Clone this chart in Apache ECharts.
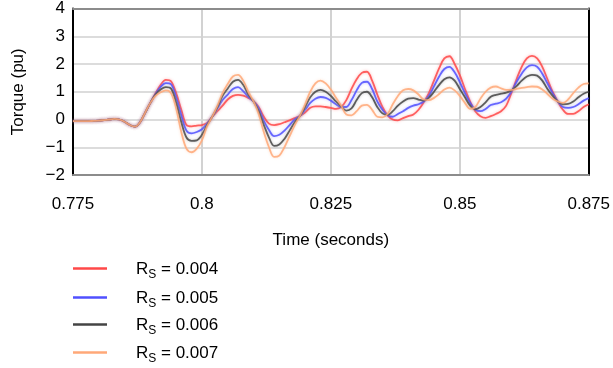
<!DOCTYPE html>
<html>
<head>
<meta charset="utf-8">
<title>Torque response</title>
<script src="https://cdn.jsdelivr.net/npm/echarts@6/dist/echarts.min.js"></script>
<style>
  html, body { margin: 0; padding: 0; background: #ffffff; }
  #chart { width: 613px; height: 368px; }
</style>
</head>
<body>
<div id="chart"></div>
<script>
// Sample times in milliseconds
const timeMs = [
  775, 776, 777, 778, 779, 780, 781, 782, 783, 784,
  785, 786, 787, 788, 789, 790, 791, 792, 793, 794,
  795, 796, 797, 798, 799, 800, 801, 802, 803, 804,
  805, 806, 807, 808, 809, 810, 811, 812, 813, 814,
  815, 816, 817, 818, 819, 820, 821, 822, 823, 824,
  825, 826, 827, 828, 829, 830, 831, 832, 833, 834,
  835, 836, 837, 838, 839, 840, 841, 842, 843, 844,
  845, 846, 847, 848, 849, 850, 851, 852, 853, 854,
  855, 856, 857, 858, 859, 860, 861, 862, 863, 864,
  865, 866, 867, 868, 869, 870, 871, 872, 873, 874,
  875
];

// Torque (pu) for each stator resistance
const torqueRs004 = [
  -0.06, -0.06, -0.06, -0.06, -0.05, -0.04, -0.02, 0.00, 0.02, 0.00,
  -0.08, -0.20, -0.26, -0.10, 0.25, 0.60, 0.95, 1.25, 1.43, 1.38,
  0.95, 0.35, -0.20, -0.25, -0.22, -0.20, -0.12, 0.10, 0.30, 0.50,
  0.72, 0.85, 0.89, 0.86, 0.78, 0.67, 0.45, 0.10, -0.15, -0.20,
  -0.17, -0.10, -0.03, 0.05, 0.13, 0.25, 0.42, 0.47, 0.47, 0.45,
  0.42, 0.38, 0.45, 0.70, 1.10, 1.45, 1.68, 1.72, 1.40, 0.90,
  0.45, 0.15, 0.00, -0.03, 0.05, 0.12, 0.18, 0.35, 0.62, 0.95,
  1.40, 1.85, 2.20, 2.28, 2.00, 1.60, 1.10, 0.65, 0.30, 0.12,
  0.06, 0.12, 0.20, 0.30, 0.50, 0.95, 1.45, 1.90, 2.20, 2.29,
  2.20, 1.90, 1.45, 1.00, 0.65, 0.35, 0.20, 0.20, 0.30, 0.45,
  0.55
];
const torqueRs005 = [
  -0.06, -0.06, -0.06, -0.06, -0.05, -0.04, -0.02, 0.00, 0.02, 0.00,
  -0.08, -0.20, -0.26, -0.10, 0.25, 0.60, 0.92, 1.18, 1.31, 1.27,
  0.80, 0.15, -0.40, -0.50, -0.45, -0.35, -0.15, 0.10, 0.40, 0.70,
  0.90, 1.10, 1.17, 1.02, 0.82, 0.65, 0.40, -0.05, -0.38, -0.60,
  -0.55, -0.40, -0.20, 0.00, 0.13, 0.35, 0.60, 0.75, 0.81, 0.78,
  0.68, 0.55, 0.45, 0.45, 0.70, 1.05, 1.32, 1.36, 1.10, 0.65,
  0.35, 0.15, 0.10, 0.20, 0.30, 0.42, 0.50, 0.55, 0.65, 0.85,
  1.20, 1.55, 1.82, 1.90, 1.70, 1.35, 0.95, 0.60, 0.36, 0.30,
  0.38, 0.52, 0.57, 0.62, 0.75, 1.00, 1.35, 1.65, 1.88, 1.96,
  1.90, 1.65, 1.30, 0.95, 0.65, 0.45, 0.42, 0.45, 0.55, 0.68,
  0.77
];
const torqueRs006 = [
  -0.06, -0.06, -0.06, -0.06, -0.05, -0.04, -0.02, 0.00, 0.02, 0.00,
  -0.08, -0.20, -0.26, -0.10, 0.25, 0.60, 0.90, 1.08, 1.17, 1.12,
  0.60, -0.10, -0.65, -0.77, -0.75, -0.55, -0.20, 0.10, 0.45, 0.85,
  1.12, 1.36, 1.43, 1.25, 0.90, 0.65, 0.30, -0.20, -0.65, -0.95,
  -0.90, -0.70, -0.40, -0.10, 0.13, 0.45, 0.80, 1.00, 1.07, 1.00,
  0.85, 0.65, 0.47, 0.32, 0.40, 0.70, 0.95, 1.00, 0.80, 0.45,
  0.22, 0.17, 0.30, 0.50, 0.65, 0.75, 0.77, 0.72, 0.68, 0.78,
  1.00, 1.25, 1.45, 1.52, 1.40, 1.10, 0.80, 0.50, 0.37, 0.45,
  0.62, 0.82, 0.89, 0.93, 0.97, 1.05, 1.20, 1.40, 1.55, 1.61,
  1.58, 1.40, 1.10, 0.85, 0.65, 0.55, 0.56, 0.65, 0.80, 0.93,
  1.00
];
const torqueRs007 = [
  -0.06, -0.06, -0.06, -0.06, -0.05, -0.04, -0.02, 0.00, 0.02, 0.00,
  -0.08, -0.20, -0.26, -0.10, 0.25, 0.60, 0.85, 0.98, 1.05, 0.95,
  0.40, -0.45, -1.05, -1.18, -1.05, -0.75, -0.25, 0.10, 0.50, 0.95,
  1.28, 1.55, 1.61, 1.40, 1.00, 0.65, 0.20, -0.45, -1.00, -1.35,
  -1.30, -1.00, -0.60, -0.20, 0.13, 0.55, 1.00, 1.30, 1.40, 1.30,
  1.08, 0.78, 0.50, 0.18, 0.15, 0.30, 0.50, 0.53, 0.35, 0.10,
  0.08, 0.20, 0.55, 0.85, 1.05, 1.10, 1.05, 0.90, 0.72, 0.70,
  0.78, 0.92, 1.08, 1.15, 1.05, 0.85, 0.60, 0.38, 0.45, 0.75,
  1.00, 1.15, 1.19, 1.12, 1.07, 1.07, 1.10, 1.14, 1.17, 1.19,
  1.18, 1.08, 0.92, 0.75, 0.65, 0.60, 0.72, 0.95, 1.15, 1.28,
  1.30
];

const seriesNames = ['Rs = 0.004', 'Rs = 0.005', 'Rs = 0.006', 'Rs = 0.007'];
const seriesValues = [torqueRs004, torqueRs005, torqueRs006, torqueRs007];
const seriesColors = ['#ff4848', '#5050ff', '#444444', '#ffa878'];
const seriesHalo = ['rgba(255,110,110,0.55)', 'rgba(120,120,255,0.55)', 'rgba(130,130,130,0.55)', 'rgba(255,190,150,0.55)'];

const xTicks = { min: 0.775, max: 0.875, step: 0.025 };
const yTicks = { min: -2, max: 4, step: 1 };

const FONT = 'Liberation Sans, Arial, sans-serif';
const FS = 17;

const chart = echarts.init(document.getElementById('chart'), null, { renderer: 'canvas' });

function pairs(vals) {
  return vals.map((v, i) => [timeMs[i] / 1000, v]);
}

const series = seriesNames.map((name, i) => ({
  name: name,
  type: 'line',
  data: pairs(seriesValues[i]),
  smooth: 0.35,
  showSymbol: false,
  symbol: 'none',
  lineStyle: {
    color: seriesColors[i],
    width: 1.8,
    opacity: 0.85,
    shadowColor: seriesHalo[i],
    shadowBlur: 3
  },
  itemStyle: { color: seriesColors[i] },
  emphasis: { disabled: true },
  z: 3
}));

// One legend block per entry, stacked under the plot
const legendTops = [261, 290, 317, 345];
const legends = seriesNames.map((name, i) => ({
  show: true,
  orient: 'vertical',
  left: 73,
  top: legendTops[i],
  padding: 0,
  data: [name],
  icon: 'rect',
  itemWidth: 34,
  itemHeight: 2.5,
  selectedMode: false,
  formatter: function (n) {
    return '{r|R}{s|S}{r|' + n.slice(2) + '}';
  },
  textStyle: {
    padding: [0, 0, 0, 24],
    rich: {
      r: { fontFamily: FONT, fontSize: FS, color: '#000', lineHeight: 19, verticalAlign: 'bottom' },
      s: { fontFamily: FONT, fontSize: 12, color: '#000', lineHeight: 19, verticalAlign: 'bottom', padding: [0, 0, -3, 0] }
    }
  }
}));

const option = {
  animation: false,
  backgroundColor: '#ffffff',
  grid: { left: 73, right: 22, top: 7, bottom: 193, containLabel: false },
  legend: legends,
  xAxis: [
    {
      type: 'value',
      position: 'bottom',
      min: xTicks.min,
      max: xTicks.max,
      interval: xTicks.step,
      name: 'Time (seconds)',
      nameLocation: 'middle',
      nameGap: 57,
      nameTextStyle: { fontFamily: FONT, fontSize: FS, color: '#000' },
      axisLine: { show: true, onZero: false, lineStyle: { color: '#8c8c8c', width: 2 } },
      axisTick: { show: false },
      axisLabel: {
        margin: 21,
        fontFamily: FONT,
        fontSize: FS,
        color: '#000',
        formatter: v => String(Number(v.toFixed(3)))
      },
      splitLine: { show: true, lineStyle: { color: '#d2d2d2', width: 2 } }
    },
    {
      type: 'value',
      position: 'top',
      min: xTicks.min,
      max: xTicks.max,
      interval: xTicks.step,
      axisLine: { show: true, onZero: false, lineStyle: { color: '#8c8c8c', width: 2 } },
      axisTick: { show: false },
      axisLabel: { show: false },
      splitLine: { show: false }
    }
  ],
  yAxis: [
    {
      type: 'value',
      position: 'left',
      min: yTicks.min,
      max: yTicks.max,
      interval: yTicks.step,
      name: 'Torque (pu)',
      nameLocation: 'middle',
      nameRotate: 90,
      nameGap: 46,
      nameTextStyle: { fontFamily: FONT, fontSize: FS, color: '#000' },
      axisLine: { show: true, onZero: false, lineStyle: { color: '#000', width: 2 } },
      axisTick: { show: false },
      axisLabel: {
        margin: 8,
        fontFamily: FONT,
        fontSize: FS,
        color: '#000',
        formatter: v => String(v).replace('-', '\u2212')
      },
      splitLine: { show: true, lineStyle: { color: '#dcdcdc', width: 2 } }
    },
    {
      type: 'value',
      position: 'right',
      min: yTicks.min,
      max: yTicks.max,
      interval: yTicks.step,
      axisLine: { show: true, onZero: false, lineStyle: { color: '#000', width: 2 } },
      axisTick: { show: false },
      axisLabel: { show: false },
      splitLine: { show: false }
    }
  ],
  series: series
};

chart.setOption(option);
</script>
</body>
</html>
